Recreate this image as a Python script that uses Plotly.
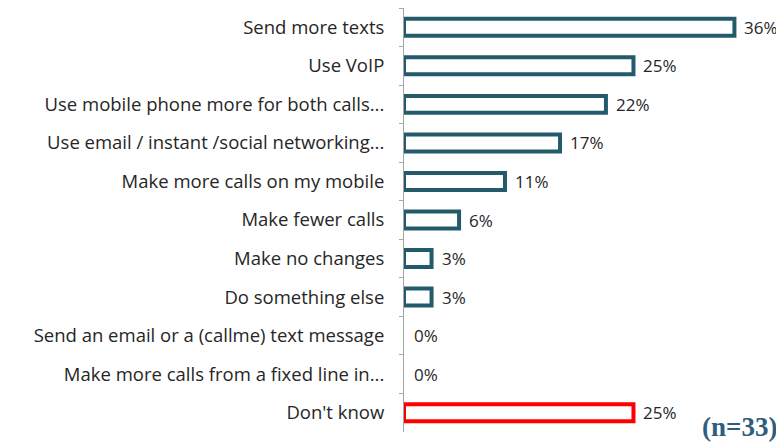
import plotly.graph_objects as go

categories = [
    "Send more texts",
    "Use VoIP",
    "Use mobile phone more for both calls...",
    "Use email / instant /social networking...",
    "Make more calls on my mobile",
    "Make fewer calls",
    "Make no changes",
    "Do something else",
    "Send an email or a (callme) text message",
    "Make more calls from a fixed line in...",
    "Don't know",
]
values = [36, 25, 22, 17, 11, 6, 3, 3, 0, 0, 25]
value_labels = ["36%", "25%", "22%", "17%", "11%", "6%", "3%", "3%", "0%", "0%", "25%"]
sample_note = "(n=33)"

TEAL = "#235B6B"
RED = "#FF0000"
line_colors = [RED if c == "Don't know" else TEAL for c in categories]
line_widths = [0 if v == 0 else 4 for v in values]

fig = go.Figure()
fig.add_trace(go.Bar(
    x=values, y=categories, orientation="h",
    marker=dict(color="white", line=dict(color=line_colors, width=line_widths)),
    width=0.44, hoverinfo="skip",
))

for c, v, t in zip(categories, values, value_labels):
    fig.add_annotation(x=v, y=c, text=t, xref="x", yref="y",
                       xanchor="left", yanchor="middle", xshift=8, showarrow=False,
                       font=dict(family="Open Sans", size=17, color="#262626"))

fig.add_annotation(x=1, y=0, xref="paper", yref="paper", text="<b>" + sample_note + "</b>",
                   xanchor="right", yanchor="bottom", showarrow=False, xshift=-5, yshift=-12,
                   font=dict(family="Liberation Serif", size=27, color="#2E5E7E"))

fig.update_layout(
    width=776, height=434,
    margin=dict(l=396, r=0, t=0, b=10),
    plot_bgcolor="white", paper_bgcolor="white",
    showlegend=False,
    xaxis=dict(range=[0, 41.4], visible=False, fixedrange=True),
    yaxis=dict(categoryorder="array", categoryarray=categories, autorange="reversed",
               showline=True, linecolor="#A6A6A6", linewidth=1,
               ticks="outside", ticklen=4, tickcolor="#A6A6A6", tickson="boundaries",
               ticklabelstandoff=15, showgrid=False,
               tickfont=dict(family="Open Sans", size=18.5, color="#262626")),
)

fig.write_html("out.html")
